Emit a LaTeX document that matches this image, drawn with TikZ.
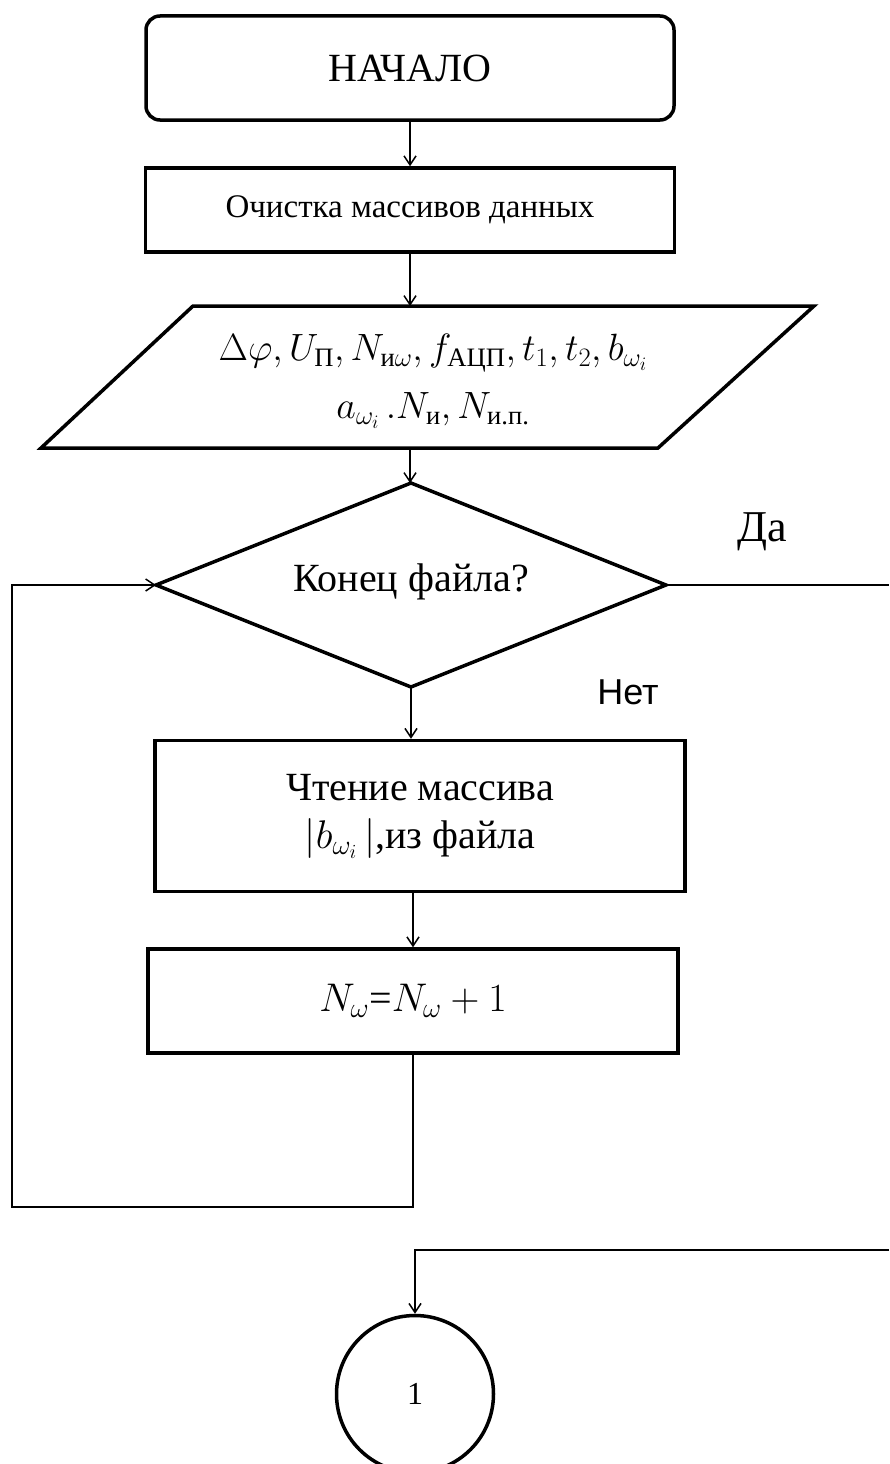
\documentclass[tikz,border=0pt]{standalone}
\RequirePackage{fix-cm}
\usepackage{fontspec}
\usepackage{amsmath}
\setmainfont{Liberation Serif}
\newfontfamily\sansf{Liberation Sans}
\usetikzlibrary{arrows.meta}
\begin{document}
\begin{tikzpicture}[x=1pt,y=-1pt,
  outline/.style={draw, line width=3.5pt},
  blk/.style={outline, inner sep=0pt, align=center,
              font=\fontsize{40}{48}\selectfont},
  conn/.style={line width=1.8pt},
  arr/.style={-{Straight Barb[length=9pt,width=12pt,line width=1.5pt]}}]
\useasboundingbox (0,0) rectangle (889,1464);
\clip (0,0) rectangle (889,1464);

% blocks
\node[blk, rounded corners=14pt, minimum width=528pt, minimum height=104pt]
  (start) at (410,68) {НАЧАЛО};
\node[blk, font=\fontsize{33}{40}\selectfont, minimum width=529pt, minimum height=84pt]
  (clr) at (410,210) {Очистка массивов данных};

% input parallelogram
\coordinate (ioT) at (410,306);
\coordinate (ioB) at (410,448);
\draw[outline, line join=miter] (193,306) -- (814,306) -- (658,448) -- (41,448) -- cycle;
\node[align=center, font=\fontsize{38}{58}\selectfont] (io) at (433,381)
  {$\Delta\varphi, U_{\text{П}}, N_{\text{и}\omega}, f_{\text{АЦП}}, t_1, t_2, b_{\omega_i}$\\
   $a_{\omega_i}\,.N_{\text{и}}, N_{\text{и.п.}}$};

% decision
\coordinate (decN) at (411,483);
\coordinate (decS) at (411,687);
\coordinate (decW) at (156,585);
\coordinate (decE) at (666,585);
\draw[outline, line join=miter] (decN) -- (decE) -- (decS) -- (decW) -- cycle;
\node[font=\fontsize{40}{48}\selectfont] (dec) at (411,582) {Конец файла?};
\node[font=\fontsize{44}{50}\selectfont] (yes) at (762,532) {Да};
\node[font=\sansf\fontsize{36}{40}\selectfont] (no) at (628,692) {Нет};

\node[blk, minimum width=530pt, minimum height=151pt]
  (rd) at (420,816) {Чтение массива\\ $|b_{\omega_i}\,|$,из файла};
\node[blk, minimum width=530pt, minimum height=104pt]
  (inc) at (413,1001) {$N_\omega$=$N_\omega+1$};

% off-page connector
\node[circle, outline, minimum size=157pt, inner sep=0pt,
      font=\fontsize{32}{38}\selectfont] (c1) at (415,1394) {1};

% connectors
\draw[conn,arr] (start.south) -- (clr.north);
\draw[conn,arr] (clr.south) -- (ioT);
\draw[conn,arr] (ioB) -- (ioB |- decN);
\draw[conn,arr] (decS) -- (decS |- rd.north);
\draw[conn,arr] (rd.south -| inc.north) -- (inc.north);

\coordinate (lb) at (12,1207);
\draw[conn,arr] (inc.south) |- (lb) |- (decW);

\coordinate (ra) at (889,585);
\draw[conn] (decE) -- (ra);
\coordinate (rb) at (889,1250);
\draw[conn,arr] (rb) -| (c1.north);
\end{tikzpicture}
\end{document}
